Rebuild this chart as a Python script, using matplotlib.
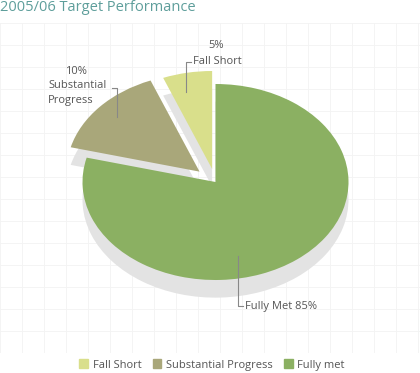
import matplotlib.pyplot as plt
from matplotlib.patches import Patch

categories = ['Fall Short', 'Substantial Progress', 'Fully met']
percent_text = ['5%', '10%', '85%']
# slice sizes as they are drawn in the picture
drawn_share = [6, 15, 79]
colors = ['#d9df8b', '#a9a77a', '#8bb062']
explode = [0.135, 0.16, 0]
shadow = '#e3e3e3'
text_col = '#555555'
line_col = '#888888'

W, H = 420, 373
plt.rcParams['font.family'] = ['Open Sans', 'DejaVu Sans']
fig = plt.figure(figsize=(W / 100, H / 100), dpi=100)

# faint background grid
bg = fig.add_axes([0, (H - 353) / H, 1, 330 / H], zorder=0)
bg.set_xlim(0, W)
bg.set_ylim(353, 23)
bg.set_xticks(range(0, W, 22))
bg.set_yticks(range(23, 354, 22))
bg.grid(True, color='#f3f3f3', lw=0.6)
bg.tick_params(length=0, labelbottom=False, labelleft=False)
for s in bg.spines.values():
    s.set_visible(False)

# pie, squashed into an ellipse with a grey "side"
cx, cy, rx, ry = 215.5, 182, 133, 98
pie_ax = fig.add_axes([(cx - rx) / W, (H - (cy + 1.3 * ry)) / H, 2 * rx / W, 2.6 * ry / H], zorder=1)
pie_ax.pie(drawn_share, explode=explode, colors=[shadow] * 3, startangle=90,
           center=(0, -0.18), wedgeprops=dict(linewidth=0))
pie_ax.pie(drawn_share, explode=explode, colors=colors, startangle=90,
           wedgeprops=dict(linewidth=0))
pie_ax.set_aspect('auto')
pie_ax.set_xlim(-1, 1)
pie_ax.set_ylim(-1.3, 1.3)
pie_ax.patch.set_alpha(0)

# labels and leader lines
top = fig.add_axes([0, 0, 1, 1], zorder=2)
top.set_xlim(0, W)
top.set_ylim(H, 0)
top.axis('off')
top.patch.set_alpha(0)

top.text(0, 7.5, '2005/06 Target Performance', fontsize=10.5, color='#5e9e9b', va='center')

top.text(208, 46, percent_text[0], fontsize=8, color=text_col, va='center')
top.text(193, 61, categories[0], fontsize=8, color=text_col, va='center')
top.plot([191, 186, 186], [62, 62, 92], color=line_col, lw=0.8)

top.text(65, 72, percent_text[1], fontsize=8, color=text_col, va='center')
top.text(48, 86, 'Substantial', fontsize=8, color=text_col, va='center')
top.text(48, 100, 'Progress', fontsize=8, color=text_col, va='center')
top.plot([112, 117, 117], [88, 88, 117], color=line_col, lw=0.8)

top.text(245, 306, 'Fully Met ' + percent_text[2], fontsize=8, color=text_col, va='center')
top.plot([238, 238, 243], [256, 306, 306], color=line_col, lw=0.8)

handles = [Patch(color=c, label=l) for c, l in zip(colors, categories)]
fig.legend(handles=handles, loc='center', bbox_to_anchor=(212 / W, 1 - 365 / H), ncol=3,
           frameon=False, fontsize=8, handlelength=0.8, handleheight=0.8,
           handletextpad=0.4, columnspacing=1.0, labelcolor=text_col)

fig.savefig('out.png', dpi=100)
